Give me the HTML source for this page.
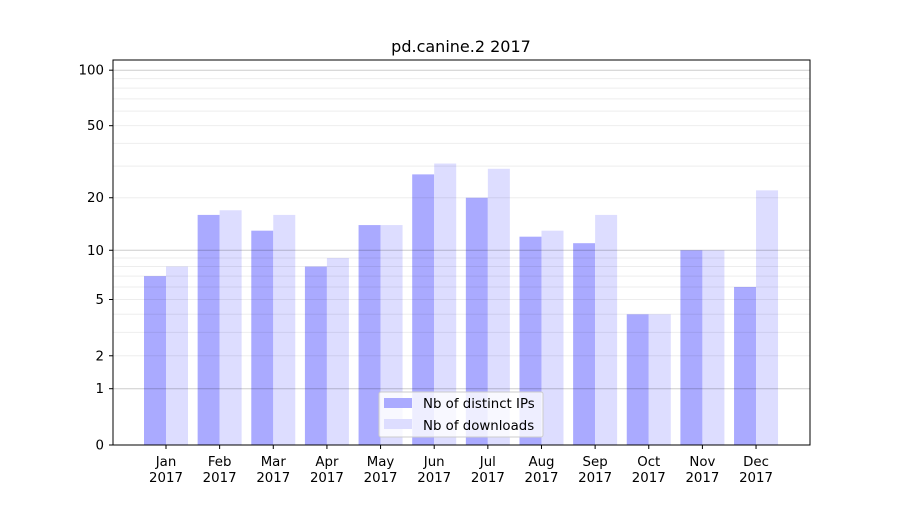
<!DOCTYPE html>
<html><head><meta charset="utf-8"><style>
body{margin:0;background:#fff;}
svg{font-family:"DejaVu Sans","Liberation Sans",sans-serif;}
</style></head><body>
<svg id="chart" width="900" height="500" viewBox="0 0 900 500">
<rect width="900" height="500" fill="#fff"/>
<text x="461" y="52" font-size="16" text-anchor="middle">pd.canine.2 2017</text>
<g id="bars"></g>
<g id="grid"></g>
<g id="axes"></g>
<g id="legend">
<rect x="379" y="392" width="164" height="45" fill="#fff" fill-opacity="0.8" stroke="#ccc" rx="2"/>
<rect x="384" y="398" width="28" height="10" fill="#aaaaff"/>
<text x="423" y="408" font-size="13.33">Nb of distinct IPs</text>
<rect x="384" y="419" width="28" height="10" fill="#ddddff"/>
<text x="423" y="430" font-size="13.33">Nb of downloads</text>
</g>
</svg>
<script>
const months=["Jan","Feb","Mar","Apr","May","Jun","Jul","Aug","Sep","Oct","Nov","Dec"];
const ips=[7,16,13,8,14,27,20,12,11,4,10,6];
const downloads=[8,17,16,9,14,31,29,13,16,4,10,22];
const yTicks=[0,1,2,5,10,20,50,100];
const minorTicks=[3,4,6,7,8,9,30,40,60,70,80,90];
const L=113,R=810,T=60,B=445,K=187;
const NS="http://www.w3.org/2000/svg";
function y(v){return B-K*Math.log10(1+v);}
function x(i){return 166+i*53.64;}
function el(p,t,a){const e=document.createElementNS(NS,t);for(const k in a)e.setAttribute(k,a[k]);p.appendChild(e);return e;}
const bars=document.getElementById('bars'),grid=document.getElementById('grid'),axes=document.getElementById('axes');
ips.forEach((v,i)=>{
 const r=el(bars,'rect',{x:x(i)-22,y:y(v),width:22,height:B-y(v),fill:'#aaaaff'});
 
 
});
downloads.forEach((v,i)=>{
 const r=el(bars,'rect',{x:x(i),y:y(v),width:22,height:B-y(v),fill:'#ddddff'});
 
 
});
minorTicks.concat([2,5,20,50]).forEach(v=>{
 const l=el(grid,'line',{x1:L,x2:R,y1:y(v),y2:y(v),stroke:'#000','stroke-opacity':0.07,'stroke-width':1});
 
 
});
[1,10,100].forEach(v=>{
 const l=el(grid,'line',{x1:L,x2:R,y1:y(v),y2:y(v),stroke:'#000','stroke-opacity':0.2,'stroke-width':1});
 
 
});
const fr=el(axes,'rect',{x:L,y:T,width:R-L,height:B-T,fill:'none',stroke:'#000','stroke-width':1});


yTicks.forEach(v=>{
 el(axes,'line',{x1:L-4,x2:L,y1:y(v),y2:y(v),stroke:'#000'});
 const t=el(axes,'text',{x:L-9,y:y(v)+4.5,'font-size':13.33,'text-anchor':'end'});
 t.textContent=v;
 
 
});
months.forEach((m,i)=>{
 el(axes,'line',{x1:x(i),x2:x(i),y1:B,y2:B+4,stroke:'#000'});
 const t=el(axes,'text',{x:x(i),y:B+21,'font-size':13.33,'text-anchor':'middle'});
 t.textContent=m;
 
 
 const t2=el(axes,'text',{x:x(i),y:B+37,'font-size':13.33,'text-anchor':'middle'});
 t2.textContent='2017';
 
 
});
</script>
</body></html>
